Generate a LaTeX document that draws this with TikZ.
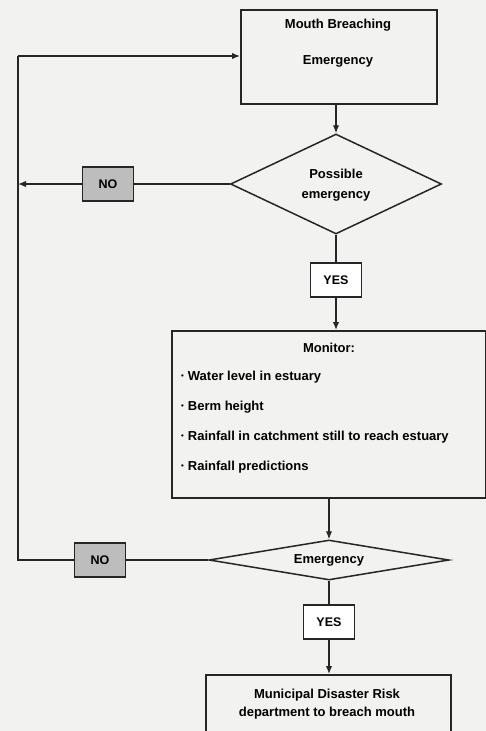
\documentclass[tikz,border=0pt]{standalone}
\usepackage{fontspec}
\setmainfont{Liberation Sans}
\usetikzlibrary{arrows.meta,shapes.geometric}
\definecolor{bg}{HTML}{F2F2F0}
\definecolor{nofill}{HTML}{BDBDBD}
\tikzset{
  box/.style={draw=black!85, line width=1.5pt, fill=bg, inner sep=0pt},
  lbl/.style={draw=black!85, line width=1.5pt, inner sep=0pt, minimum width=51pt, minimum height=34pt, font=\fontsize{12.5}{14}\selectfont\bfseries},
  nolbl/.style={lbl, fill=nofill},
  yeslbl/.style={lbl, fill=white},
  dec/.style={draw=black!85, line width=1.5pt, fill=bg, diamond, inner sep=0pt},
  txt/.style={font=\fontsize{13}{18}\selectfont\bfseries, inner sep=0pt},
  conn/.style={line width=1.4pt, draw=black!85},
  arr/.style={conn, -{Latex[length=8pt,width=6.5pt]}},
}
\newcommand{\blt}{\raisebox{0.2ex}{\scalebox{0.6}{\textbullet}}\hspace{4pt}}
\begin{document}
\begin{tikzpicture}[x=1pt,y=-1pt]
\useasboundingbox (0,0) rectangle (486,731);
\fill[bg] (0,0) rectangle (486,731);
% top box
\node[box, minimum width=196pt, minimum height=94pt, anchor=north west] (top) at (240,9) {};
\node[txt] (t1) at (338,25) {Mouth Breaching};
\node[txt] (t2) at (338,61) {Emergency};
% diamond 1
\node[dec, minimum width=211pt, minimum height=100pt, aspect=2.11] (d1) at (336,184) {};
\node[txt, align=center, font=\fontsize{13}{20}\selectfont\bfseries] (d1t) at (336,185) {Possible\\emergency};
% NO 1
\node[nolbl] (no1) at (108,184) {NO};
% YES 1
\node[yeslbl] (yes1) at (336,280) {YES};
% monitor box
\node[box, minimum width=314pt, minimum height=167pt, anchor=north west] (mon) at (171,330) {};
\node[txt] (m0) at (329,348) {Monitor:};
\node[txt, anchor=west] (m1) at (181,377) {\blt Water level in estuary};
\node[txt, anchor=west] (m2) at (181,407) {\blt Berm height};
\node[txt, anchor=west] (m3) at (181,437) {\blt Rainfall in catchment still to reach estuary};
\node[txt, anchor=west] (m4) at (181,467) {\blt Rainfall predictions};
% diamond 2
\node[dec, minimum width=240pt, minimum height=40pt, aspect=6] (d2) at (329,560) {};
\node[txt] (d2t) at (329,560) {Emergency};
% NO 2
\node[nolbl] (no2) at (100,560) {NO};
% YES 2
\node[yeslbl] (yes2) at (329,622) {YES};
% final box
\node[box, minimum width=245pt, minimum height=70pt, anchor=north west] (fin) at (205,674) {};
\node[txt, align=center] (ft) at (327,704) {Municipal Disaster Risk\\department to breach mouth};
% corner coordinates
\coordinate (c1) at (18,560);
\coordinate (c2) at (18,56);
\coordinate (c3) at (18,184);
% connectors
\draw[arr] (d1.north |- top.south) -- (d1.north);
\draw[conn] (d1.west) -- (no1.east);
\draw[arr] (no1.west) -- (c3);
\draw[conn] (d1.south) -- (yes1.north);
\draw[arr] (yes1.south) -- (yes1.south |- mon.north);
\draw[arr] (d2.north |- mon.south) -- (d2.north);
\draw[conn] (d2.west) -- (no2.east);
\draw[conn] (no2.west) -- (c1) -- (c2);
\draw[arr] (c2) -- (c2 -| top.west);
\draw[conn] (d2.south) -- (yes2.north);
\draw[arr] (yes2.south) -- (yes2.south |- fin.north);
\end{tikzpicture}
\end{document}
